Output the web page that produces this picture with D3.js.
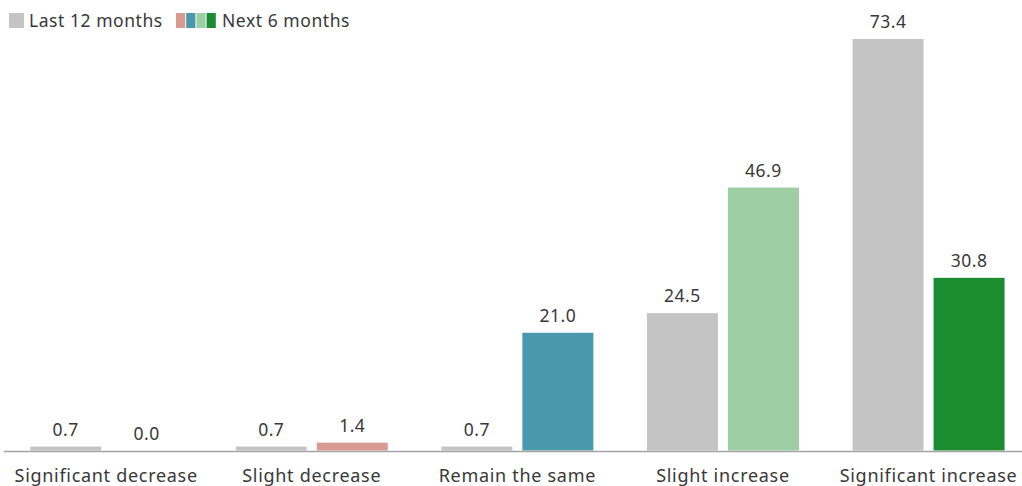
<!DOCTYPE html>
<html>
<head>
<meta charset="utf-8">
<script src="https://cdn.jsdelivr.net/npm/d3@7"></script>
<style>
  html, body { margin: 0; padding: 0; background: #fff; }
  svg text { font-family: "Noto Sans", "DejaVu Sans", sans-serif; fill: #383838; }
</style>
</head>
<body>
<svg id="chart" width="1022" height="486"></svg>
<script>
// Expected direction of change, share of respondents (%)
const categories = ["Significant decrease", "Slight decrease", "Remain the same", "Slight increase", "Significant increase"];
const seriesNames = ["Last 12 months", "Next 6 months"];
const last12 = [0.7, 0.7, 0.7, 24.5, 73.4];
const next6 = [0.0, 1.4, 21.0, 46.9, 30.8];
const lastColor = "#c3c4c3";
const nextColors = ["#d89a93", "#4a98ab", "#9ecfa4", "#1c8c30"];

const svg = d3.select("#chart");
const W = 1022, baseY = 450.5, topY = 39;

const x0 = d3.scaleBand().domain(categories).range([4, 1022])
  .paddingInner(0.2607).paddingOuter(0.106).align(0.6);
const x1 = d3.scaleBand().domain(seriesNames).range([0, x0.bandwidth()]).paddingInner(10 / 81);
const y = d3.scaleLinear().domain([0, 73.4]).range([baseY, topY]);

const rows = categories.map((c, i) => ({
  cat: c,
  bars: [
    { s: seriesNames[0], v: last12[i], color: lastColor },
    { s: seriesNames[1], v: next6[i], color: i === 0 ? lastColor : nextColors[i - 1] }
  ]
}));

const g = svg.append("g");
const groups = g.selectAll("g.grp").data(rows).join("g")
  .attr("class", "grp")
  .attr("transform", d => `translate(${x0(d.cat)},0)`);

groups.selectAll("rect").data(d => d.bars).join("rect")
  .attr("x", d => x1(d.s))
  .attr("width", x1.bandwidth())
  .attr("y", d => y(d.v))
  .attr("height", d => baseY - y(d.v))
  .attr("fill", d => d.color);

groups.selectAll("text.val").data(d => d.bars).join("text")
  .attr("class", "val")
  .attr("x", d => x1(d.s) + x1.bandwidth() / 2)
  .attr("y", d => y(d.v) - 11)
  .attr("text-anchor", "middle")
  .attr("font-size", 17.5)
  .attr("letter-spacing", 0.5)
  .text(d => d.v.toFixed(1));

// baseline
svg.append("line")
  .attr("x1", 4).attr("x2", W)
  .attr("y1", baseY + 1).attr("y2", baseY + 1)
  .attr("stroke", "#a3a3a3").attr("stroke-width", 1.5);

// category axis
const xAxis = d3.axisBottom(x0).tickSize(0).tickPadding(0);
const ax = svg.append("g").attr("transform", `translate(0,${baseY})`).call(xAxis);
ax.select(".domain").remove();
ax.selectAll("text").attr("font-size", 18).attr("letter-spacing", 0.7).attr("dy", null).attr("y", 31)
  .style("fill", "#383838").style("font-family", "\"Noto Sans\", sans-serif");

// legend
const leg = svg.append("g");
leg.append("rect").attr("x", 9).attr("y", 13).attr("width", 15).attr("height", 15).attr("fill", lastColor);
leg.append("text").attr("x", 29).attr("y", 27).attr("font-size", 17.5).attr("letter-spacing", 0.55).text(seriesNames[0]);
nextColors.forEach((c, i) => {
  leg.append("rect").attr("x", 176 + i * 10.2).attr("y", 13).attr("width", 9.2).attr("height", 15).attr("fill", c);
});
leg.append("text").attr("x", 222).attr("y", 27).attr("font-size", 17.5).attr("letter-spacing", 0.55).text(seriesNames[1]);
</script>
</body>
</html>
